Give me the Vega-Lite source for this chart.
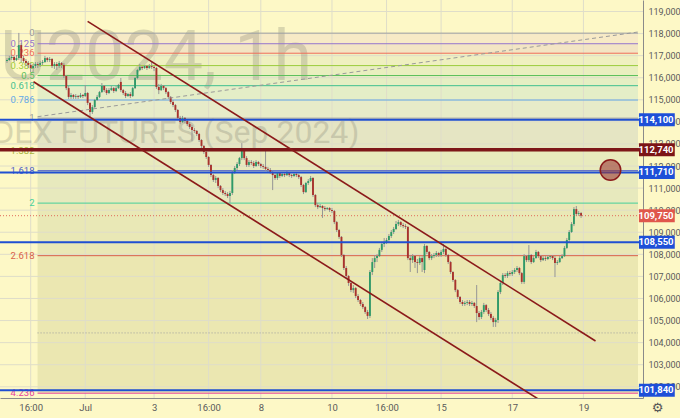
{
"$schema": "https://vega.github.io/schema/vega-lite/v6.json",
"width": 643, "height": 398, "autosize": "none", "padding": {"left": 0, "top": 0, "right": 37, "bottom": 20},
"background": "#fdf8c6",
"config": {"view": {"stroke": null},
  "axis": {"grid": false, "ticks": false, "domainColor": "#8a8a8a", "labelColor": "#5a5a5a", "labelFontSize": 9.5, "labelFont": "Liberation Sans Narrow, Roboto, sans-serif", "labelOverlap": false},
  "axisY": {"labelOverlap": false, "labelFontSize": 9}},
"resolve": {"scale": {"color": "independent"}},
"datasets": {
"candles": [
{"i":0,"o":116760,"h":116890,"l":116670,"c":116800},
{"i":1,"o":116800,"h":116990,"l":116760,"c":116890},
{"i":2,"o":116890,"h":117030,"l":116800,"c":116940},
{"i":3,"o":116940,"h":116990,"l":116710,"c":116800},
{"i":4,"o":116800,"h":117030,"l":116760,"c":116890},
{"i":5,"o":116890,"h":118030,"l":116800,"c":117480},
{"i":6,"o":117480,"h":117570,"l":116710,"c":116890},
{"i":7,"o":116890,"h":116990,"l":116670,"c":116760},
{"i":8,"o":116760,"h":116850,"l":116530,"c":116670},
{"i":9,"o":116670,"h":116760,"l":116440,"c":116580},
{"i":10,"o":116580,"h":116670,"l":116260,"c":116440},
{"i":11,"o":116440,"h":116620,"l":116260,"c":116530},
{"i":12,"o":116530,"h":116710,"l":116440,"c":116620},
{"i":13,"o":116620,"h":116710,"l":116440,"c":116580},
{"i":14,"o":116580,"h":116760,"l":116490,"c":116670},
{"i":15,"o":116670,"h":116800,"l":116580,"c":116710},
{"i":16,"o":116710,"h":116990,"l":116670,"c":116890},
{"i":17,"o":116890,"h":116940,"l":116710,"c":116800},
{"i":18,"o":116800,"h":116940,"l":116710,"c":116850},
{"i":19,"o":116850,"h":116890,"l":116440,"c":116530},
{"i":20,"o":116530,"h":116710,"l":116400,"c":116620},
{"i":21,"o":116620,"h":116710,"l":116350,"c":116530},
{"i":22,"o":116530,"h":116760,"l":116440,"c":116670},
{"i":23,"o":116670,"h":116710,"l":116440,"c":116580},
{"i":24,"o":116580,"h":116670,"l":115990,"c":116080},
{"i":25,"o":116080,"h":116120,"l":115440,"c":115530},
{"i":26,"o":115530,"h":115630,"l":115040,"c":115130},
{"i":27,"o":115130,"h":115310,"l":115040,"c":115220},
{"i":28,"o":115220,"h":115260,"l":115040,"c":115130},
{"i":29,"o":115130,"h":115260,"l":115040,"c":115170},
{"i":30,"o":115170,"h":115220,"l":115040,"c":115130},
{"i":31,"o":115130,"h":115310,"l":115080,"c":115220},
{"i":32,"o":115220,"h":115260,"l":115080,"c":115170},
{"i":33,"o":115170,"h":115670,"l":115130,"c":115310},
{"i":34,"o":115310,"h":115350,"l":114760,"c":114860},
{"i":35,"o":114860,"h":114900,"l":114220,"c":114450},
{"i":36,"o":114450,"h":114760,"l":114360,"c":114670},
{"i":37,"o":114670,"h":115040,"l":114630,"c":114990},
{"i":38,"o":114990,"h":115220,"l":114950,"c":115130},
{"i":39,"o":115130,"h":115400,"l":115080,"c":115350},
{"i":40,"o":115350,"h":115760,"l":115310,"c":115630},
{"i":41,"o":115630,"h":115670,"l":115350,"c":115440},
{"i":42,"o":115440,"h":115530,"l":115220,"c":115310},
{"i":43,"o":115310,"h":115530,"l":115260,"c":115440},
{"i":44,"o":115440,"h":115630,"l":115400,"c":115530},
{"i":45,"o":115530,"h":115580,"l":115310,"c":115400},
{"i":46,"o":115400,"h":115630,"l":115350,"c":115530},
{"i":47,"o":115530,"h":115720,"l":115490,"c":115670},
{"i":48,"o":115810,"h":115990,"l":115350,"c":115440},
{"i":49,"o":115440,"h":115490,"l":115220,"c":115310},
{"i":50,"o":115310,"h":115400,"l":115080,"c":115170},
{"i":51,"o":115170,"h":115310,"l":115130,"c":115260},
{"i":52,"o":115260,"h":115350,"l":115080,"c":115170},
{"i":53,"o":115170,"h":115580,"l":115130,"c":115530},
{"i":54,"o":115530,"h":116030,"l":115490,"c":115990},
{"i":55,"o":115990,"h":116400,"l":115940,"c":116350},
{"i":56,"o":116350,"h":116620,"l":116300,"c":116490},
{"i":57,"o":116490,"h":116530,"l":116350,"c":116440},
{"i":58,"o":116440,"h":116580,"l":116400,"c":116530},
{"i":59,"o":116530,"h":116580,"l":116350,"c":116440},
{"i":60,"o":116440,"h":116620,"l":116400,"c":116530},
{"i":61,"o":116530,"h":116710,"l":116400,"c":116490},
{"i":62,"o":116490,"h":116530,"l":116300,"c":116440},
{"i":63,"o":116440,"h":116490,"l":115490,"c":115580},
{"i":64,"o":115580,"h":115720,"l":115260,"c":115440},
{"i":65,"o":115440,"h":115720,"l":115400,"c":115630},
{"i":66,"o":115630,"h":115670,"l":115440,"c":115530},
{"i":67,"o":115530,"h":115580,"l":115260,"c":115350},
{"i":68,"o":115350,"h":115400,"l":115040,"c":115130},
{"i":69,"o":115130,"h":115170,"l":114810,"c":114900},
{"i":70,"o":114900,"h":114990,"l":114670,"c":114760},
{"i":71,"o":114760,"h":114810,"l":114450,"c":114540},
{"i":72,"o":114540,"h":114580,"l":114090,"c":114180},
{"i":73,"o":114180,"h":114270,"l":113900,"c":113990},
{"i":74,"o":113990,"h":114270,"l":113950,"c":114180},
{"i":75,"o":114180,"h":114220,"l":113950,"c":114040},
{"i":76,"o":114040,"h":114130,"l":113810,"c":113900},
{"i":77,"o":113900,"h":113990,"l":113680,"c":113770},
{"i":78,"o":113770,"h":113860,"l":113130,"c":113630},
{"i":79,"o":113630,"h":113720,"l":113500,"c":113590},
{"i":80,"o":113590,"h":113630,"l":113360,"c":113450},
{"i":81,"o":113450,"h":113500,"l":113090,"c":113180},
{"i":82,"o":113180,"h":113220,"l":112820,"c":112910},
{"i":83,"o":112910,"h":112950,"l":112550,"c":112640},
{"i":84,"o":112640,"h":112730,"l":112320,"c":112410},
{"i":85,"o":112410,"h":112450,"l":111960,"c":112050},
{"i":86,"o":112050,"h":112090,"l":111500,"c":111590},
{"i":87,"o":111590,"h":111640,"l":111280,"c":111370},
{"i":88,"o":111370,"h":111550,"l":111230,"c":111460},
{"i":89,"o":111460,"h":111500,"l":111000,"c":111100},
{"i":90,"o":111100,"h":111140,"l":110820,"c":110910},
{"i":91,"o":110910,"h":111000,"l":110690,"c":110780},
{"i":92,"o":110780,"h":110870,"l":110640,"c":110730},
{"i":93,"o":110730,"h":110820,"l":110550,"c":110640},
{"i":94,"o":110640,"h":110870,"l":110330,"c":110780},
{"i":95,"o":110780,"h":111820,"l":110690,"c":111730},
{"i":96,"o":111730,"h":112000,"l":111640,"c":111910},
{"i":97,"o":111910,"h":112180,"l":111820,"c":112090},
{"i":98,"o":112090,"h":112410,"l":112000,"c":112360},
{"i":99,"o":112360,"h":113040,"l":112270,"c":112730},
{"i":100,"o":112730,"h":112770,"l":112270,"c":112360},
{"i":101,"o":112360,"h":112450,"l":111960,"c":112050},
{"i":102,"o":112050,"h":112270,"l":111960,"c":112180},
{"i":103,"o":112180,"h":112270,"l":112050,"c":112140},
{"i":104,"o":112140,"h":112230,"l":111910,"c":112000},
{"i":105,"o":112000,"h":112270,"l":111960,"c":112180},
{"i":106,"o":112180,"h":112230,"l":112000,"c":112090},
{"i":107,"o":112090,"h":112140,"l":111910,"c":112000},
{"i":108,"o":112000,"h":112090,"l":111870,"c":111960},
{"i":109,"o":111960,"h":112730,"l":111780,"c":111870},
{"i":110,"o":111870,"h":111960,"l":111730,"c":111820},
{"i":111,"o":111820,"h":111910,"l":111640,"c":111730},
{"i":112,"o":111730,"h":111780,"l":110910,"c":111590},
{"i":113,"o":111590,"h":111680,"l":111370,"c":111460},
{"i":114,"o":111460,"h":111730,"l":111370,"c":111680},
{"i":115,"o":111680,"h":111730,"l":111460,"c":111550},
{"i":116,"o":111550,"h":111730,"l":111500,"c":111640},
{"i":117,"o":111640,"h":111680,"l":111500,"c":111590},
{"i":118,"o":111590,"h":111780,"l":111550,"c":111680},
{"i":119,"o":111680,"h":111730,"l":111500,"c":111590},
{"i":120,"o":111590,"h":111640,"l":111460,"c":111550},
{"i":121,"o":111550,"h":111680,"l":111500,"c":111640},
{"i":122,"o":111640,"h":111730,"l":111500,"c":111590},
{"i":123,"o":111590,"h":111640,"l":111410,"c":111500},
{"i":124,"o":111500,"h":111550,"l":111050,"c":111140},
{"i":125,"o":111140,"h":111190,"l":110730,"c":110820},
{"i":126,"o":110820,"h":111280,"l":110780,"c":111230},
{"i":127,"o":111230,"h":111410,"l":111140,"c":111320},
{"i":128,"o":111320,"h":111550,"l":111280,"c":111460},
{"i":129,"o":111460,"h":111500,"l":110600,"c":110690},
{"i":130,"o":110690,"h":110730,"l":110140,"c":110230},
{"i":131,"o":110230,"h":110330,"l":110050,"c":110140},
{"i":132,"o":110140,"h":110280,"l":110100,"c":110190},
{"i":133,"o":110190,"h":110230,"l":109650,"c":110100},
{"i":134,"o":110100,"h":110190,"l":109960,"c":110050},
{"i":135,"o":110050,"h":110140,"l":110010,"c":110100},
{"i":136,"o":110100,"h":110140,"l":109920,"c":110010},
{"i":137,"o":110010,"h":110100,"l":109870,"c":109960},
{"i":138,"o":109960,"h":110010,"l":109370,"c":109460},
{"i":139,"o":109460,"h":109510,"l":109010,"c":109100},
{"i":140,"o":109100,"h":109150,"l":108700,"c":108790},
{"i":141,"o":108790,"h":108830,"l":107880,"c":107970},
{"i":142,"o":107970,"h":108010,"l":107290,"c":107380},
{"i":143,"o":107380,"h":107470,"l":106930,"c":107020},
{"i":144,"o":107020,"h":107060,"l":106570,"c":106700},
{"i":145,"o":106700,"h":106750,"l":106290,"c":106380},
{"i":146,"o":106380,"h":106610,"l":106250,"c":106470},
{"i":147,"o":106470,"h":106520,"l":106020,"c":106110},
{"i":148,"o":106110,"h":106200,"l":105840,"c":105930},
{"i":149,"o":105930,"h":105980,"l":105660,"c":105750},
{"i":150,"o":105750,"h":105840,"l":105520,"c":105610},
{"i":151,"o":105610,"h":105660,"l":105300,"c":105390},
{"i":152,"o":105390,"h":105480,"l":105070,"c":105210},
{"i":153,"o":105210,"h":107290,"l":105120,"c":107200},
{"i":154,"o":107200,"h":107830,"l":107060,"c":107650},
{"i":155,"o":107650,"h":107970,"l":107380,"c":107830},
{"i":156,"o":107830,"h":108010,"l":107650,"c":107920},
{"i":157,"o":107920,"h":108290,"l":107880,"c":108200},
{"i":158,"o":108200,"h":108560,"l":108110,"c":108470},
{"i":159,"o":108470,"h":108740,"l":108330,"c":108560},
{"i":160,"o":108560,"h":108740,"l":108470,"c":108650},
{"i":161,"o":108650,"h":108920,"l":108560,"c":108830},
{"i":162,"o":108830,"h":109100,"l":108740,"c":109010},
{"i":163,"o":109010,"h":109240,"l":108920,"c":109150},
{"i":164,"o":109150,"h":109510,"l":109100,"c":109370},
{"i":165,"o":109370,"h":109560,"l":109280,"c":109460},
{"i":166,"o":109460,"h":109510,"l":109240,"c":109330},
{"i":167,"o":109330,"h":109420,"l":109190,"c":109280},
{"i":168,"o":109280,"h":109370,"l":109150,"c":109240},
{"i":169,"o":109240,"h":109280,"l":107740,"c":107830},
{"i":170,"o":107830,"h":107970,"l":107200,"c":107740},
{"i":171,"o":107740,"h":108010,"l":107610,"c":107920},
{"i":172,"o":107920,"h":107970,"l":107380,"c":107650},
{"i":173,"o":107650,"h":107790,"l":107150,"c":107610},
{"i":174,"o":107610,"h":107920,"l":107520,"c":107830},
{"i":175,"o":107830,"h":107920,"l":107200,"c":107650},
{"i":176,"o":107290,"h":108470,"l":107150,"c":108380},
{"i":177,"o":108380,"h":108420,"l":108010,"c":108110},
{"i":178,"o":108110,"h":108150,"l":107740,"c":107830},
{"i":179,"o":107830,"h":108010,"l":107740,"c":107920},
{"i":180,"o":107920,"h":108060,"l":107830,"c":107970},
{"i":181,"o":107970,"h":108150,"l":107880,"c":108060},
{"i":182,"o":108060,"h":108110,"l":107880,"c":107970},
{"i":183,"o":107970,"h":108200,"l":107880,"c":108110},
{"i":184,"o":108110,"h":108470,"l":108010,"c":108240},
{"i":185,"o":108240,"h":108290,"l":107880,"c":107970},
{"i":186,"o":107970,"h":108010,"l":107560,"c":107650},
{"i":187,"o":107650,"h":107700,"l":107110,"c":107200},
{"i":188,"o":107200,"h":107240,"l":106750,"c":106840},
{"i":189,"o":106840,"h":106880,"l":106290,"c":106380},
{"i":190,"o":106380,"h":106430,"l":105980,"c":106070},
{"i":191,"o":106070,"h":106110,"l":105750,"c":105840},
{"i":192,"o":105840,"h":105930,"l":105660,"c":105750},
{"i":193,"o":105750,"h":105890,"l":105660,"c":105800},
{"i":194,"o":105800,"h":105930,"l":105700,"c":105840},
{"i":195,"o":105840,"h":105930,"l":105660,"c":105750},
{"i":196,"o":105750,"h":105890,"l":105660,"c":105800},
{"i":197,"o":105800,"h":105840,"l":105570,"c":105660},
{"i":198,"o":105660,"h":106610,"l":104930,"c":105340},
{"i":199,"o":105340,"h":105430,"l":105030,"c":105160},
{"i":200,"o":105160,"h":105480,"l":105070,"c":105390},
{"i":201,"o":105390,"h":105800,"l":105300,"c":105700},
{"i":202,"o":105700,"h":105750,"l":105390,"c":105480},
{"i":203,"o":105480,"h":105570,"l":105210,"c":105300},
{"i":204,"o":105300,"h":105390,"l":105030,"c":105120},
{"i":205,"o":105120,"h":105210,"l":104710,"c":104930},
{"i":206,"o":104930,"h":105120,"l":104710,"c":105030},
{"i":207,"o":105030,"h":106380,"l":104890,"c":106290},
{"i":208,"o":106290,"h":106790,"l":106200,"c":106700},
{"i":209,"o":106700,"h":107150,"l":106610,"c":107060},
{"i":210,"o":107060,"h":107150,"l":106930,"c":107020},
{"i":211,"o":107020,"h":107240,"l":106930,"c":107150},
{"i":212,"o":107150,"h":107240,"l":107020,"c":107110},
{"i":213,"o":107110,"h":107290,"l":107020,"c":107200},
{"i":214,"o":107200,"h":107380,"l":107110,"c":107290},
{"i":215,"o":107290,"h":107470,"l":107200,"c":107380},
{"i":216,"o":107380,"h":107430,"l":107060,"c":107150},
{"i":217,"o":107150,"h":107200,"l":106660,"c":106750},
{"i":218,"o":106750,"h":108010,"l":106660,"c":107920},
{"i":219,"o":107920,"h":107970,"l":107650,"c":107740},
{"i":220,"o":107740,"h":108420,"l":107650,"c":107970},
{"i":221,"o":107970,"h":108010,"l":107560,"c":107650},
{"i":222,"o":107650,"h":107920,"l":107610,"c":107830},
{"i":223,"o":107830,"h":108200,"l":107790,"c":108110},
{"i":224,"o":108110,"h":108150,"l":107830,"c":107920},
{"i":225,"o":107920,"h":107970,"l":107650,"c":107740},
{"i":226,"o":107740,"h":107920,"l":107700,"c":107830},
{"i":227,"o":107830,"h":107920,"l":107700,"c":107790},
{"i":228,"o":107790,"h":107970,"l":107740,"c":107880},
{"i":229,"o":107880,"h":107920,"l":107790,"c":107920},
{"i":230,"o":107920,"h":107970,"l":107740,"c":107830},
{"i":231,"o":107830,"h":107920,"l":106970,"c":107610},
{"i":232,"o":107610,"h":107740,"l":107520,"c":107650},
{"i":233,"o":107650,"h":107920,"l":107610,"c":107830},
{"i":234,"o":107830,"h":108010,"l":107790,"c":107920},
{"i":235,"o":107920,"h":108380,"l":107880,"c":108290},
{"i":236,"o":108290,"h":108740,"l":108240,"c":108650},
{"i":237,"o":108650,"h":109100,"l":108560,"c":109010},
{"i":238,"o":109010,"h":109460,"l":108970,"c":109370},
{"i":239,"o":109370,"h":110140,"l":109280,"c":110050},
{"i":240,"o":110050,"h":110190,"l":109740,"c":109830},
{"i":241,"o":109830,"h":109960,"l":109740,"c":109870},
{"i":242,"o":109870,"h":109920,"l":109650,"c":109750}
],
"fib": [
{"lv":"0","p":118020},{"lv":"0.125","p":117540},{"lv":"0.236","p":117110},{"lv":"0.382","p":116550},
{"lv":"0.5","p":116100},{"lv":"0.618","p":115640},{"lv":"0.786","p":114990},{"lv":"1","p":114170},
{"lv":"1.382","p":112700},{"lv":"1.618","p":111790},{"lv":"2","p":110320},{"lv":"2.618","p":107940},{"lv":"4.236","p":101710}
],
"bands": [
{"b":"b0","p":118020,"p2":117540},{"b":"b1","p":117540,"p2":117110},{"b":"b2","p":117110,"p2":116550},
{"b":"b3","p":116550,"p2":116100},{"b":"b4","p":116100,"p2":115640},{"b":"b5","p":115640,"p2":114990},
{"b":"b6","p":114990,"p2":114170},{"b":"b7","p":114170,"p2":112700},{"b":"b8","p":112700,"p2":111790},
{"b":"b9","p":111790,"p2":110320},{"b":"b10","p":110320,"p2":107940},{"b":"b11","p":107940,"p2":101710}
],
"gy": [{"g":102000},{"g":103000},{"g":104000},{"g":105000},{"g":106000},{"g":107000},{"g":108000},{"g":109000},{"g":110000},{"g":111000},{"g":112000},{"g":113000},{"g":114000},{"g":115000},{"g":116000},{"g":117000},{"g":118000},{"g":119000}],
"gx": [{"g":10},{"g":33},{"g":62},{"g":85},{"g":107},{"g":137},{"g":160},{"g":183},{"g":213},{"g":243}],
"blue": [{"p":114100},{"p":111710},{"p":108550},{"p":101840}],
"red": [{"p":112740}],
"chan": [{"ch":"up","i":34,"p":118556},{"ch":"up","i":248.1,"p":104074},{"ch":"lo","i":11.2,"p":115820},{"ch":"lo","i":225.3,"p":101356}],
"trend": [{"i":12.9,"p":114234},{"i":266,"p":118071}],
"tags": [{"p":114100,"t":"114,100","k":"blue"},{"p":112740,"t":"112,740","k":"red"},{"p":111710,"t":"111,710","k":"blue"},{"p":109750,"t":"109,750","k":"last"},{"p":108550,"t":"108,550","k":"blue"},{"p":101840,"t":"101,840","k":"blue"}]
},
"layer": [
{"data": {"name": "bands"}, "mark": {"type": "rect"},
 "encoding": {
  "x": {"datum": 12.9, "type": "quantitative", "scale": {"domain": [-0.83, 266], "nice": false, "zero": false}, "title": null,
   "axis": {"orient": "bottom", "values": [10,33,62,85,107,137,160,183,213,243], "labelPadding": 4, "labelOverlap": false, "labelFlush": false, "labelBound": false,
     "labelExpr": "datum.value == 10 ? '16:00' : datum.value == 33 ? 'Jul' : datum.value == 62 ? '3' : datum.value == 85 ? '16:00' : datum.value == 107 ? '8' : datum.value == 137 ? '10' : datum.value == 160 ? '16:00' : datum.value == 183 ? '15' : datum.value == 213 ? '17' : '19'"}},
  "x2": {"datum": 266},
  "y": {"field": "p", "type": "quantitative", "scale": {"domain": [101492, 119521], "nice": false, "zero": false}, "title": null,
   "axis": {"orient": "right", "values": [102000,103000,104000,105000,106000,107000,108000,109000,110000,111000,112000,113000,114000,115000,116000,117000,118000,119000], "tickCount": 18, "format": ",d", "labelAlign": "left", "labelPadding": 5, "labelOverlap": false, "labelBound": false, "labelFlush": false}},
  "y2": {"field": "p2"},
  "color": {"field": "b", "type": "nominal", "legend": null, "scale": {"domain": ["b0","b1","b2","b3","b4","b5","b6","b7","b8","b9","b10","b11"], "range": ["#f7eac6","#f3e5c4","#eff0c0","#e9efbf","#e5efc3","#e4eec7","#e7ebc9","#e5e5c3","#e8eabd","#e7e9bd","#e9e8b6","#ebe7b1"]}}
 }},
{"data": {"name": "gy"}, "mark": {"type": "rule", "color": "#dfddc9", "strokeWidth": 1},
 "encoding": {"y": {"field": "g", "type": "quantitative", "title": null}}},
{"data": {"name": "gx"}, "mark": {"type": "rule", "color": "#dfddc9", "strokeWidth": 1},
 "encoding": {"x": {"field": "g", "type": "quantitative", "title": null}}},
{"data": {"values": [{"t": "RIU2024, 1h"}]}, "mark": {"type": "text", "align": "right", "baseline": "alphabetic", "fontSize": 70, "font": "Roboto", "color": "#77776a", "opacity": 0.26, "clip": true},
 "encoding": {"x": {"datum": 128.6, "type": "quantitative"}, "y": {"datum": 115900, "type": "quantitative"}, "text": {"field": "t"}}},
{"data": {"values": [{"t": "RTS INDEX FUTURES (Sep 2024)"}]}, "mark": {"type": "text", "align": "right", "baseline": "alphabetic", "fontSize": 32, "font": "Roboto", "color": "#77776a", "opacity": 0.26, "clip": true},
 "encoding": {"x": {"datum": 148.6, "type": "quantitative"}, "y": {"datum": 113050, "type": "quantitative"}, "text": {"field": "t"}}},
{"data": {"name": "fib"}, "mark": {"type": "rule", "strokeWidth": 1},
 "encoding": {"x": {"datum": 12.9, "type": "quantitative"}, "x2": {"datum": 266}, "y": {"field": "p", "type": "quantitative"},
  "color": {"field": "lv", "type": "nominal", "legend": null, "scale": {"domain": ["0","0.125","0.236","0.382","0.5","0.618","0.786","1","1.382","1.618","2","2.618","4.236"], "range": ["#a0a0a0","#9575cd","#ef6c5a","#9ccc3d","#5cbf5c","#3fbf8f","#64a8e6","#a0a0a0","#a8b43a","#5060c8","#45d09a","#d9604a","#e8409a"]}}}},
{"data": {"name": "fib"}, "mark": {"type": "text", "align": "right", "baseline": "middle", "fontSize": 9.5, "font": "Liberation Sans Narrow, Roboto, sans-serif"},
 "encoding": {"x": {"datum": 11.6, "type": "quantitative"}, "y": {"field": "p", "type": "quantitative"}, "text": {"field": "lv"},
  "color": {"field": "lv", "type": "nominal", "legend": null, "scale": {"domain": ["0","0.125","0.236","0.382","0.5","0.618","0.786","1","1.382","1.618","2","2.618","4.236"], "range": ["#9a9a9a","#9575cd","#ef6c5a","#9ccc3d","#5cbf5c","#3fbf8f","#64a8e6","#9a9a9a","#a8b43a","#5060c8","#45d09a","#d9604a","#e8409a"]}}}},
{"data": {"name": "candles"}, "mark": {"type": "rule", "color": "#959595", "strokeWidth": 1},
 "encoding": {"x": {"field": "i", "type": "quantitative"}, "y": {"field": "l", "type": "quantitative"}, "y2": {"field": "h"}}},
{"data": {"name": "candles"}, "mark": {"type": "bar", "size": 1.9},
 "encoding": {"x": {"field": "i", "type": "quantitative"}, "y": {"field": "o", "type": "quantitative"}, "y2": {"field": "c"},
  "color": {"condition": {"test": "datum.c >= datum.o", "value": "#2f9a68"}, "value": "#a8322d"}}},
{"data": {"name": "blue"}, "mark": {"type": "rule", "color": "#1f4fd2", "strokeWidth": 2},
 "encoding": {"y": {"field": "p", "type": "quantitative"}}},
{"data": {"name": "red"}, "mark": {"type": "rule", "color": "#7d1619", "strokeWidth": 3.5},
 "encoding": {"y": {"field": "p", "type": "quantitative"}}},
{"data": {"values": [{"p": 109750}]}, "mark": {"type": "rule", "color": "#e06a5a", "strokeWidth": 1, "strokeDash": [1, 2]},
 "encoding": {"y": {"field": "p", "type": "quantitative"}}},
{"data": {"values": [{"p": 104440}]}, "mark": {"type": "rule", "color": "#a0a0a0", "strokeWidth": 1, "strokeDash": [1, 2]},
 "encoding": {"x": {"datum": 12.9, "type": "quantitative"}, "x2": {"datum": 266}, "y": {"field": "p", "type": "quantitative"}}},
{"data": {"name": "trend"}, "mark": {"type": "line", "color": "#9a9a9a", "strokeWidth": 1, "strokeDash": [4, 3], "clip": true},
 "encoding": {"x": {"field": "i", "type": "quantitative"}, "y": {"field": "p", "type": "quantitative"}}},
{"data": {"name": "chan"}, "mark": {"type": "line", "color": "#8b1a1a", "strokeWidth": 1.6, "clip": true},
 "encoding": {"x": {"field": "i", "type": "quantitative"}, "y": {"field": "p", "type": "quantitative"}, "detail": {"field": "ch"}}},
{"data": {"values": [{"p": 111820}]}, "mark": {"type": "point", "filled": true, "size": 420, "color": "#9b3a35", "fillOpacity": 0.6, "stroke": "#8b1a1a", "strokeWidth": 1.5, "strokeOpacity": 1},
 "encoding": {"x": {"datum": 254.4, "type": "quantitative"}, "y": {"field": "p", "type": "quantitative"}}},
{"data": {"name": "tags"}, "mark": {"type": "rule", "strokeWidth": 13, "strokeCap": "butt"},
 "encoding": {"x": {"datum": 266.4, "type": "quantitative"}, "x2": {"datum": 281.5}, "y": {"field": "p", "type": "quantitative"},
  "color": {"field": "k", "type": "nominal", "legend": null, "scale": {"domain": ["blue","red","last"], "range": ["#1e4fd8","#7c1417","#e0574c"]}}}},
{"data": {"name": "tags"}, "mark": {"type": "text", "align": "center", "baseline": "middle", "fontSize": 9.5, "fontWeight": "bold", "color": "#ffffff", "font": "Liberation Sans Narrow, Roboto, sans-serif"},
 "encoding": {"x": {"datum": 273.6, "type": "quantitative"}, "y": {"field": "p", "type": "quantitative"}, "text": {"field": "t"}}},
{"data": {"values": [{"t": "⚙"}]}, "mark": {"type": "text", "align": "center", "baseline": "middle", "fontSize": 13, "font": "DejaVu Sans", "color": "#555555"},
 "encoding": {"x": {"datum": 274.3, "type": "quantitative"}, "y": {"datum": 101038, "type": "quantitative"}, "text": {"field": "t"}}}
]
}
